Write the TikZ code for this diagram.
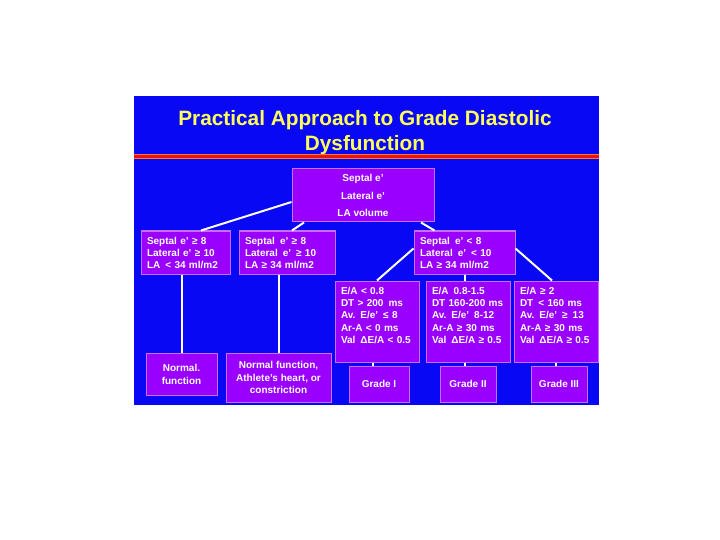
\documentclass[tikz,border=0pt]{standalone}
\usepackage{fontspec}
\setmainfont{Liberation Sans}
\definecolor{bgblue}{RGB}{8,8,245}
\definecolor{boxfill}{RGB}{153,0,255}
\definecolor{boxborder}{RGB}{200,110,255}
\definecolor{titleyellow}{RGB}{255,255,90}
\definecolor{rulered}{RGB}{230,20,20}
\definecolor{ruleorange}{RGB}{250,120,40}
\begin{document}
\begin{tikzpicture}[x=1pt,y=-1pt,
  box/.style={draw=boxborder, fill=boxfill, line width=1pt, text=white,
    font=\bfseries\fontsize{10}{12}\selectfont, inner sep=0pt},
  lbox/.style={box, align=left, inner xsep=6pt},
  cbox/.style={box, align=center},
  link/.style={draw=white, line width=2pt}]
\useasboundingbox (0,0) rectangle (720,540);
\fill[bgblue] (134,96) rectangle (599,405);
% title
\node[text=titleyellow, font=\bfseries\fontsize{20.8}{25}\selectfont, align=center] (title) at (365,132.5)
  {Practical Approach to Grade Diastolic\\Dysfunction};
\draw[ruleorange, line width=5pt] (134,157) -- (599,157);
\draw[rulered, line width=3pt] (134,157) -- (599,157);
% top
\node[cbox, minimum width=142pt, minimum height=53pt, font=\bfseries\fontsize{10}{17.5}\selectfont] (top) at (363,195.5)
  {Septal e'\\Lateral e'\\LA volume};
% level 2
\node[lbox, text width=77pt, minimum height=43pt] (A) at (185.5,252.5)
  {Septal e' ≥ 8\\Lateral e' ≥ 10\\LA \,< 34 ml/m2};
\node[lbox, text width=84pt, minimum height=43pt] (B) at (287,252.5)
  {Septal \,e' ≥ 8\\Lateral \,e' \,≥ 10\\LA ≥ 34 ml/m2};
\node[lbox, text width=89pt, minimum height=43pt] (C) at (464.5,252.5)
  {Septal \,e' < 8\\Lateral \,e' \,< 10\\LA ≥ 34 ml/m2};
% level 3
\node[lbox, text width=72pt, minimum height=81pt, font=\bfseries\fontsize{10}{12.3}\selectfont] (D1) at (377,321.5)
  {E/A < 0.8\\DT > 200 \,ms\\Av. E/e' \,≤ 8\\Ar-A < 0 ms\\Val \,ΔE/A < 0.5\\\rule{0pt}{0pt}};
\node[lbox, text width=72pt, minimum height=81pt, font=\bfseries\fontsize{10}{12.3}\selectfont] (D2) at (468,321.5)
  {E/A \,0.8-1.5\\DT 160-200 ms\\Av. E/e' \,8-12\\Ar-A ≥ 30 ms\\Val \,ΔE/A ≥ 0.5\\\rule{0pt}{0pt}};
\node[lbox, text width=72pt, minimum height=81pt, font=\bfseries\fontsize{10}{12.3}\selectfont] (D3) at (556,321.5)
  {E/A ≥ 2\\DT \,< 160 ms\\Av. E/e' \,≥ \,13\\Ar-A ≥ 30 ms\\Val \,ΔE/A ≥ 0.5\\\rule{0pt}{0pt}};
% outcomes
\node[cbox, minimum width=71pt, minimum height=42pt, font=\bfseries\fontsize{10}{13}\selectfont] (N1) at (181.5,374)
  {Normal.\\function};
\node[cbox, minimum width=105pt, minimum height=49pt, font=\bfseries\fontsize{10}{12.8}\selectfont] (N2) at (278.5,377.5)
  {Normal function,\\Athlete's heart, or\\constriction};
\node[cbox, minimum width=60pt, minimum height=36pt] (G1) at (379,384) {Grade I};
\node[cbox, minimum width=56pt, minimum height=36pt] (G2) at (468,384) {Grade II};
\node[cbox, minimum width=56pt, minimum height=36pt] (G3) at (559,384) {Grade III};
% connectors
\draw[link] ([yshift=-6.5pt]top.west) -- ([xshift=15.5pt]A.north);
\draw[link] ([xshift=-59pt]top.south) -- ([xshift=5pt]B.north);
\draw[link] ([xshift=58pt]top.south) -- ([xshift=-30pt]C.north);
\draw[link] (N1.north |- A.south) -- (N1.north);
\draw[link] (N2.north |- B.south) -- (N2.north);
\draw[link] ([yshift=4pt]C.west) -- (D1.north);
\draw[link] (C.south) -- (C.south |- D2.north);
\draw[link] ([yshift=4pt]C.east) -- ([xshift=-4pt]D3.north);
\draw[link] ([xshift=-4pt]D1.south) -- ([xshift=-4pt]D1.south |- G1.north);
\draw[link] ([xshift=-3pt]D2.south) -- ([xshift=-3pt]D2.south |- G2.north);
\draw[link] (D3.south) -- (D3.south |- G3.north);
\end{tikzpicture}
\end{document}
